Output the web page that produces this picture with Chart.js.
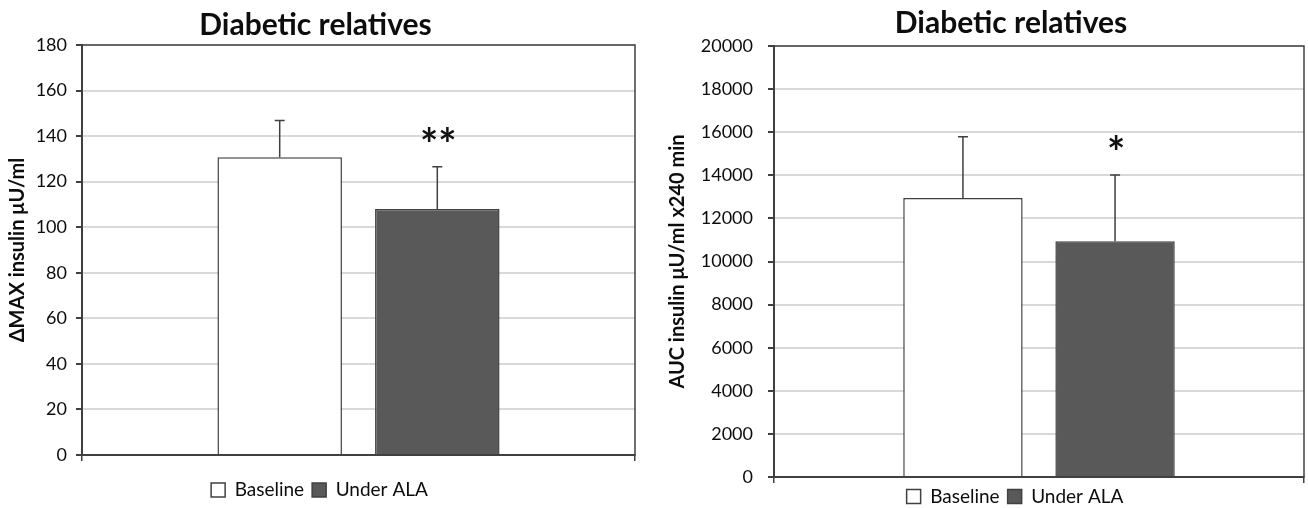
<!DOCTYPE html>
<html>
<head>
<meta charset="utf-8">
<script src="https://cdn.jsdelivr.net/npm/chart.js@4/dist/chart.umd.min.js"></script>
<style>
  body { margin: 0; background: #fff; }
  .panel { position: absolute; top: 0; width: 654px; height: 508px; }
  #left { left: 0; }
  #right { left: 654px; }
</style>
</head>
<body>
<div class="panel" id="left"><canvas id="chart1"></canvas></div>
<div class="panel" id="right"><canvas id="chart2"></canvas></div>
<script>
// Datos
const seriesNames = ['Baseline', 'Under ALA'];
const seriesColors = ['#ffffff', '#595959'];

const deltaMax = [130.7, 108.0];
const deltaMaxErr = [16.1, 18.6];
const deltaMaxSig = ['', '**'];
const deltaMaxTicks = [0, 20, 40, 60, 80, 100, 120, 140, 160, 180];

const aucInsulin = [12950, 10940];
const aucInsulinErr = [2840, 3070];
const aucInsulinSig = ['', '*'];
const aucInsulinTicks = [0, 2000, 4000, 6000, 8000, 10000, 12000, 14000, 16000, 18000, 20000];

const FONT = 'Lato, "Open Sans", sans-serif';
const DARK = '#404040';

// Barras de error (solo hacia arriba) y asteriscos
const errorBars = {
    id: 'errorBars',
    afterDatasetsDraw(chart, args, opts) {
        const ctx = chart.ctx;
        const y = chart.scales.y;
        ctx.save();
        chart.data.datasets.forEach((ds, i) => {
            const bar = chart.getDatasetMeta(i).data[0];
            const top = y.getPixelForValue(opts.values[i] + opts.errors[i]);
            ctx.strokeStyle = DARK;
            ctx.lineWidth = 1.5;
            ctx.beginPath();
            ctx.moveTo(bar.x, bar.y);
            ctx.lineTo(bar.x, top);
            ctx.moveTo(bar.x - 5, top);
            ctx.lineTo(bar.x + 5, top);
            ctx.stroke();
            if (opts.marks[i]) {
                ctx.fillStyle = '#111';
                ctx.font = 'bold 43px ' + FONT;
                ctx.textAlign = 'center';
                ctx.textBaseline = 'alphabetic';
                ctx.fillText(opts.marks[i], bar.x + 1, top - 32 + 0.58 * 43);
            }
        });
        ctx.restore();
    }
};

// Marco del área de trazado y ajuste de título y leyenda
const plotFrame = {
    id: 'plotFrame',
    afterLayout(chart, args, opts) {
        chart.legend.left += opts.legendDx;
        chart.legend.right += opts.legendDx;
        chart.titleBlock.left += opts.titleDx;
        chart.titleBlock.right += opts.titleDx;
    },
    afterDraw(chart) {
        const a = chart.chartArea;
        const ctx = chart.ctx;
        ctx.save();
        ctx.strokeStyle = DARK;
        ctx.lineWidth = 1.5;
        ctx.strokeRect(a.left, a.top, a.right - a.left, a.bottom - a.top);
        ctx.restore();
    }
};

function createChart(ctx, cfg) {
    return new Chart(ctx, {
        type: 'bar',
        data: {
            labels: [''],
            datasets: seriesNames.map((name, i) => ({
                label: name,
                data: [cfg.values[i]],
                backgroundColor: seriesColors[i],
                borderColor: DARK,
                borderWidth: 1.5,
                categoryPercentage: cfg.catPct,
                barPercentage: cfg.barPct
            }))
        },
        options: {
            responsive: true,
            maintainAspectRatio: false,
            animation: false,
            layout: { padding: cfg.padding },
            scales: {
                x: {
                    grid: { offset: true, drawOnChartArea: false, tickLength: 6, tickColor: DARK, lineWidth: 1.5 },
                    border: { color: DARK, width: 2 },
                    ticks: { display: false },
                    afterFit: s => { s.height = cfg.xHeight; }
                },
                y: {
                    min: cfg.ticks[0],
                    max: cfg.ticks[cfg.ticks.length - 1],
                    afterBuildTicks: s => { s.ticks = cfg.ticks.map(v => ({ value: v })); },
                    grid: { color: '#d9d9d9', lineWidth: 2, tickLength: 6, tickColor: DARK },
                    border: { color: DARK, width: 2 },
                    ticks: {
                        color: '#0d0d0d',
                        padding: cfg.tickPad,
                        font: { family: FONT, size: 18 },
                        callback: v => String(v)
                    },
                    title: {
                        display: true,
                        text: cfg.yTitle,
                        color: '#0d0d0d',
                        padding: 0,
                        font: { family: FONT, size: 20, weight: 'bold' }
                    },
                    afterFit: s => { s.width = cfg.yWidth; }
                }
            },
            plugins: {
                title: {
                    display: true,
                    text: 'Diabetic relatives',
                    color: '#0d0d0d',
                    padding: cfg.titlePad,
                    font: { family: FONT, size: 30, weight: 'bold' }
                },
                legend: {
                    position: 'bottom',
                    labels: {
                        color: '#0d0d0d',
                        boxWidth: 14,
                        boxHeight: 14,
                        padding: 8,
                        font: { family: FONT, size: 19 }
                    }
                },
                tooltip: { enabled: false },
                errorBars: { values: cfg.values, errors: cfg.errors, marks: cfg.marks },
                plotFrame: { legendDx: cfg.legendDx, titleDx: cfg.titleDx }
            }
        },
        plugins: [errorBars, plotFrame]
    });
}

// Gráfico 1: ΔMAX insulina
createChart(document.getElementById('chart1'), {
    values: deltaMax,
    errors: deltaMaxErr,
    marks: deltaMaxSig,
    ticks: deltaMaxTicks,
    yTitle: 'ΔMAX insulin μU/ml',
    padding: { left: 6, right: 19, top: 0, bottom: -1.5 },
    yWidth: 76,
    xHeight: 17.5,
    tickPad: 9,
    titlePad: { top: 7, bottom: 2 },
    catPct: 0.57,
    barPct: 0.79,
    legendDx: -1,
    titleDx: -5
});

// Gráfico 2: AUC insulina
createChart(document.getElementById('chart2'), {
    values: aucInsulin,
    errors: aucInsulinErr,
    marks: aucInsulinSig,
    ticks: aucInsulinTicks,
    yTitle: 'AUC insulin μU/ml x240 min',
    padding: { left: 12, right: 4, top: 0, bottom: -8 },
    yWidth: 108,
    xHeight: 2,
    tickPad: 15,
    titlePad: { top: 5, bottom: 5 },
    catPct: 0.574,
    barPct: 0.785,
    legendDx: 30,
    titleDx: 26
});
</script>
</body>
</html>
